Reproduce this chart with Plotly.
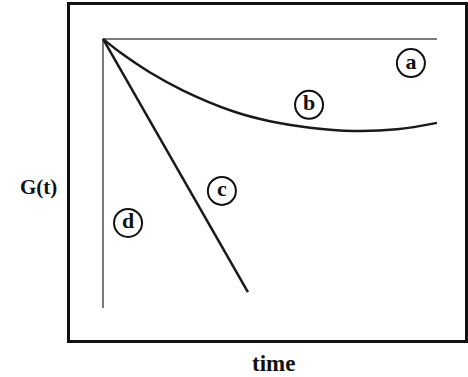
import plotly.graph_objects as go

# curve (b): relaxation with a shallow minimum
t_b = [0, 0.051, 0.141, 0.240, 0.389, 0.500, 0.620, 0.750, 0.880, 1.0]
g_b = [1.0, 0.950, 0.875, 0.808, 0.731, 0.694, 0.670, 0.658, 0.664, 0.688]

# (a) constant, (c) straight drop, (d) instant drop
t_a = [0, 1.0]
g_a = [1.0, 1.0]
t_c = [0, 0.434]
g_c = [1.0, 0.059]
t_d = [0, 0]
g_d = [1.0, 0.0]

# circled labels
lab_text = ["<b>a</b>", "<b>b</b>", "<b>c</b>", "<b>d</b>"]
lab_t = [0.922, 0.617, 0.356, 0.075]
lab_g = [0.910, 0.755, 0.435, 0.316]

SERIF = "Liberation Serif, Times New Roman, serif"

fig = go.Figure()
fig.add_trace(go.Scatter(x=t_a, y=g_a, mode="lines", line=dict(color="#7a7a7a", width=2)))
fig.add_trace(go.Scatter(x=t_d, y=g_d, mode="lines", line=dict(color="#7a7a7a", width=2)))
fig.add_trace(go.Scatter(x=t_b, y=g_b, mode="lines",
                         line=dict(color="#1a1a1a", width=2.5, shape="spline", smoothing=1.0)))
fig.add_trace(go.Scatter(x=t_c, y=g_c, mode="lines", line=dict(color="#1a1a1a", width=2.5)))
fig.add_trace(go.Scatter(
    x=lab_t, y=lab_g, mode="markers+text",
    marker=dict(symbol="circle-open", size=28, color="#111", line=dict(width=2)),
    text=lab_text, textposition="middle center",
    textfont=dict(family=SERIF, size=22, color="#111"),
))

fig.add_annotation(text="<b>G(t)</b>", x=(38 - 70) / 395, y=(340 - 187) / 335,
                   xref="x domain", yref="y domain", xanchor="center", yanchor="middle",
                   showarrow=False, font=dict(family=SERIF, size=21, color="#111"))
fig.add_annotation(text="<b>time</b>", x=(273 - 70) / 395, y=-(363 - 340) / 335,
                   xref="x domain", yref="y domain", xanchor="center", yanchor="middle",
                   showarrow=False, font=dict(family=SERIF, size=23, color="#111"))

fig.update_layout(
    template="none",
    width=468, height=377,
    margin=dict(l=70, r=3, t=5, b=37, autoexpand=False),
    plot_bgcolor="white", paper_bgcolor="white",
    showlegend=False,
    hovermode=False,
    xaxis=dict(range=[-0.0988, 1.084], showgrid=False, zeroline=False, automargin=False,
               showticklabels=False, ticks="", showline=True, mirror=True,
               linecolor="#111", linewidth=3),
    yaxis=dict(range=[-0.119, 1.126], showgrid=False, zeroline=False, automargin=False,
               showticklabels=False, ticks="", showline=True, mirror=True,
               linecolor="#111", linewidth=3),
)

# drop the browser's default page margin so the figure sits at the window corner
fig.write_html("out.html", config={"displayModeBar": False},
               post_script="document.body.style.margin='0px';document.body.style.overflow='hidden';")
